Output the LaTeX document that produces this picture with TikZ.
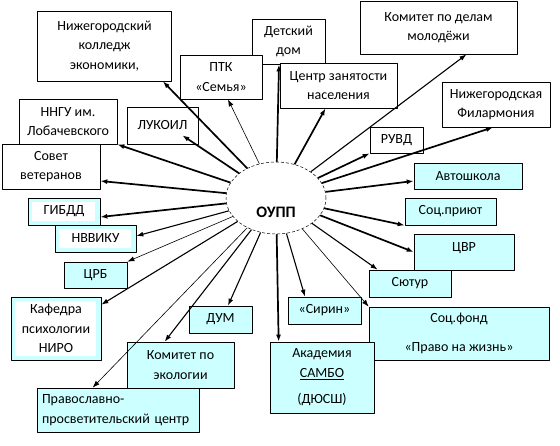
\documentclass[tikz,border=0pt]{standalone}
\usepackage{fontspec}
\setmainfont{Carlito}
\usetikzlibrary{shapes.geometric,arrows.meta}
\definecolor{boxcyan}{RGB}{204,255,255}
\tikzset{
  sz/.style 2 args={minimum width=#1pt, minimum height=#2pt},
  box/.style={draw, line width=0.7pt, fill=white, align=center, inner sep=2pt},
  cbox/.style={box, fill=boxcyan},
  hbox/.style={cbox, path picture={\fill[white] ([shift={(4,4)}]path picture bounding box.north west) rectangle ([shift={(-5,-4)}]path picture bounding box.south east);}},
  thick link/.style={->, line width=1.7pt},
  mid link/.style={->, line width=1.1pt},
  thin link/.style={->, line width=0.6pt},
}
\begin{document}
\begin{tikzpicture}[x=1pt, y=-1pt, font=\fontsize{14}{19.5}\selectfont, >={Latex[length=7pt,width=5pt]}, line join=round]
\useasboundingbox (0,0) rectangle (560,445);
% centre
\node[ellipse, draw, densely dashed, line width=0.5pt, sz={100}{72}] (oupp) at (276,198) {};
\node[font=\fontsize{16}{18}\selectfont\bfseries] (ouppname) at (276,212) {ОУПП};
% upper boxes
\node[box, sz={134}{70}] (kolledzh) at (104.5,46) {Нижегородский\\колледж\\экономики,};
\node[box, sz={73}{45}] (detdom) at (288.5,41.5) {Детский\\дом};
\node[box, sz={82}{44}] (ptk) at (221,77) {ПТК\\«Семья»};
\node[box, sz={117}{45}] (czn) at (338.5,85.5) {Центр занятости\\населения};
\node[box, sz={157}{53}] (molod) at (438.5,27.5) {Комитет по делам\\молодёжи};
\node[box, sz={108}{45}] (filarm) at (496,104.5) {Нижегородская\\Филармония};
\node[box, sz={53}{26}] (ruvd) at (396.5,140) {РУВД};
\node[box, sz={98}{45}] (nngu) at (68,121.5) {ННГУ им.\\Лобачевского};
\node[box, sz={71}{37}] (lukoil) at (162.5,125.5) {ЛУКОИЛ};
\node[box, sz={98}{45}] (sovet) at (51,166.5) {Совет\\ветеранов};
% right boxes
\node[cbox, sz={108}{26}] (avto) at (468,176) {Автошкола};
\node[cbox, sz={91}{27}] (priyut) at (450.5,211.5) {Соц.приют};
\node[cbox, sz={100}{36}, text depth=9pt] (cvr) at (464,252) {ЦВР};
\node[cbox, sz={82}{27}] (syutur) at (410,283.5) {Сютур};
\node[cbox, sz={180}{53}] (socfond) at (459,333.5) {Соц.фонд\\[10pt]«Право на жизнь»};
\node[cbox, sz={73}{27}] (sirin) at (324.5,310.5) {«Сирин»};
\node[cbox, sz={104}{71}] (akad) at (322,377.5) {Академия\\\underline{САМБО}\\[7pt](ДЮСШ)};
% left boxes
\node[hbox, sz={72}{27}] (gibdd) at (64,211.5) {ГИБДД};
\node[hbox, sz={81}{27}] (nvviku) at (95.5,238.5) {НВВИКУ};
\node[cbox, sz={63}{26}] (crb) at (95.5,275) {ЦРБ};
\node[hbox, sz={90}{63}] (kafedra) at (56,328.5) {Кафедра\\психологии\\НИРО};
\node[cbox, sz={63}{27}] (dum) at (220.5,319.5) {ДУМ};
\node[cbox, sz={107}{46}] (ekol) at (180.5,365) {Комитет по\\экологии};
\node[cbox, sz={162}{44}, text width=152pt, align=left] (pravosl) at (118,410) {Православно-\\просветительский центр};
% arrows
\draw[thick link] (oupp) -- ([xshift=-9pt]kolledzh.south east);
\draw[thin link] (oupp) -- ([xshift=7pt]ptk.south);
\draw[thick link] (oupp) -- ([xshift=-9.5pt]detdom.south);
\draw[thick link] (oupp) -- ([xshift=-13pt]czn.south);
\draw[mid link] (oupp) -- ([xshift=28pt]molod.south);
\draw[thick link] (oupp) -- ([xshift=-3pt]filarm.south);
\draw[thick link] (oupp) -- (ruvd.south west);
\draw[thick link] (oupp) -- ([yshift=-5pt]avto.west);
\draw[thick link] (oupp) -- (priyut.south west);
\draw[thick link] (oupp) -- (cvr.west);
\draw[mid link] (oupp) -- ([xshift=9pt]syutur.north west);
\draw[thin link] (oupp) -- (socfond.north west);
\draw[mid link] (oupp) -- ([xshift=-19.5pt]sirin.north);
\draw[thick link] (oupp) -- ([xshift=9pt]akad.north west);
\draw[mid link] (oupp) -- ([xshift=7.5pt]dum.north);
\draw[mid link] (oupp) -- ([xshift=38pt]ekol.north west);
\draw[thin link] (oupp) -- ([xshift=56pt]pravosl.north west);
\draw[mid link] (oupp) -- ([yshift=-8pt]kafedra.north east);
\draw[thin link] (oupp) -- (crb.north east);
\draw[mid link] (oupp) -- ([yshift=2.5pt]nvviku.east);
\draw[thick link] (oupp) -- ([yshift=-5.5pt]gibdd.east);
\draw[thick link] (oupp) -- ([yshift=-14.5pt]sovet.east);
\draw[thick link] (oupp) -- (nngu.south east);
\draw[thick link] (oupp) -- ([xshift=-16pt,yshift=9pt]lukoil.south east);
\end{tikzpicture}
\end{document}
